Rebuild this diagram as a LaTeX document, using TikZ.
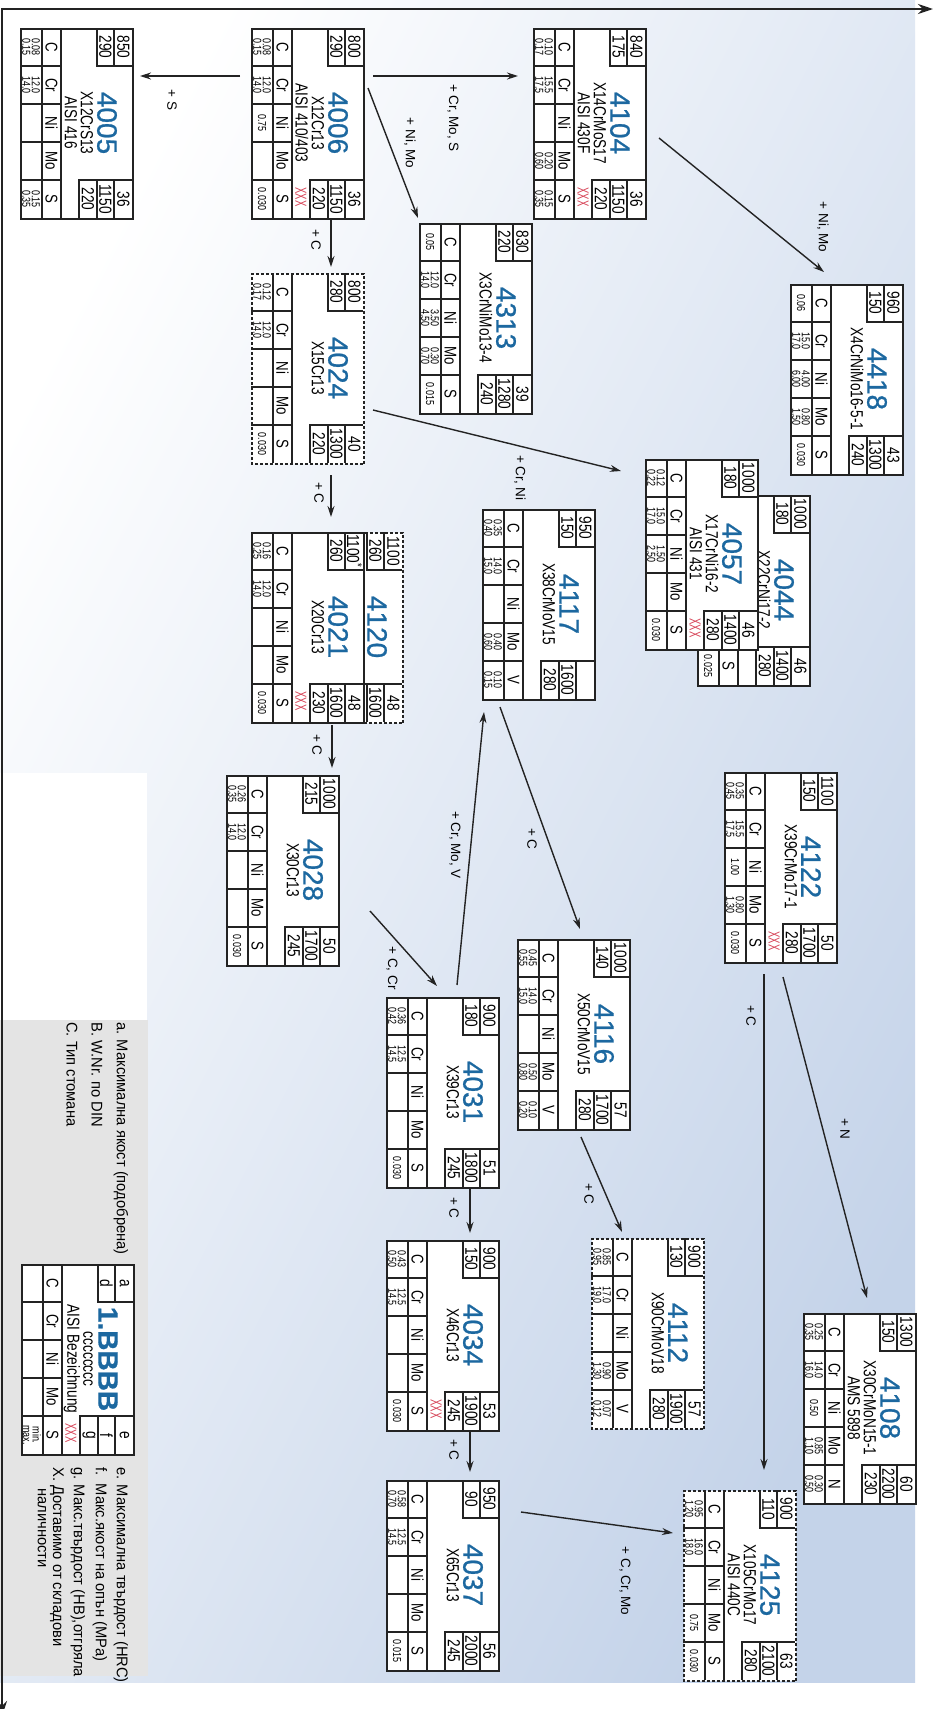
\documentclass[tikz,border=0pt]{standalone}
\usepackage{fontspec}
\setmainfont{Liberation Sans}
\newfontfamily\vnd[FakeStretch=0.78]{Liberation Sans}
\newfontfamily\xnd[FakeStretch=0.6]{Liberation Sans}
\newfontfamily\lgd[FakeStretch=0.95]{Liberation Sans}
\newfontfamily\numf[FakeBold=0.8]{Liberation Sans}
\usetikzlibrary{arrows.meta,calc}

\definecolor{numblue}{RGB}{28,104,160}
\definecolor{xred}{RGB}{214,64,84}
\definecolor{linec}{RGB}{35,35,35}
\definecolor{bgblue}{RGB}{196,211,233}
\definecolor{bgmid}{RGB}{228,234,243}
\definecolor{leggrey}{RGB}{228,228,228}

\tikzset{
 boxfr/.style={rectangle, draw=linec, line width=1.5pt, fill=white, minimum width=190pt, minimum height=112pt, inner sep=0pt, anchor=south west},
 sbframe/.style={solid},
 inl/.style={draw=linec, line width=1.1pt},
 dsh/.style={dash pattern=on 3pt off 2pt},
 cell/.style={font=\vnd\fontsize{17.5}{17.5}\selectfont, inner sep=0pt},
 numt/.style={font=\numf\fontsize{28}{28}\selectfont, inner sep=0pt, text=numblue},
 nmt/.style={font=\vnd\fontsize{17.5}{17.5}\selectfont, inner sep=0pt},
 elt/.style={font=\vnd\fontsize{17}{17}\selectfont, inner sep=0pt},
 valt/.style={font=\vnd\fontsize{11.5}{9.5}\selectfont, inner sep=0pt, align=center},
 xxt/.style={font=\xnd\fontsize{16}{16}\selectfont, inner sep=0pt, text=xred},
 arr/.style={draw=linec, line width=1.4pt, -{Stealth[length=11pt,width=7pt]}},
 axisln/.style={draw=linec, line width=2.5pt},
 lab/.style={font=\fontsize{13.5}{13.5}\selectfont, inner sep=0pt},
 lgt/.style={font=\lgd\fontsize{15.5}{15.5}\selectfont, inner sep=0pt, anchor=west},
}

\pgfkeys{/sb/.is family, /sb/.cd,
  a/.store in=\sbA, d/.store in=\sbD, e/.store in=\sbE, f/.store in=\sbF, g/.store in=\sbG,
  num/.store in=\sbNum, la/.store in=\sbLa, lb/.store in=\sbLb, x/.store in=\sbX,
  ea/.store in=\sbEa, eb/.store in=\sbEb, ec/.store in=\sbEc, ed/.store in=\sbEd, ee/.store in=\sbEe,
  va/.store in=\sbVa, vb/.store in=\sbVb, vc/.store in=\sbVc, vd/.store in=\sbVd, ve/.store in=\sbVe,
  frame/.code={\tikzset{sbframe/.style={#1}}},
  defaults/.style={a=,d=,e=,f=,g=,num=,la=,lb=,x=,ea=C,eb=Cr,ec=Ni,ed=Mo,ee=S,va=,vb=,vc=,vd=,ve=,frame=solid}}

\newcommand\vv[2]{#1\\#2}

\newcommand\stbox[4][]{%
 \pgfkeys{/sb/.cd,defaults,#1}%
 \node[boxfr,sbframe] (#2) at (#3,#4) {};
 \begin{scope}[shift={(#3,#4)}]
 \draw[inl] (0,22)--(190,22) (0,41)--(190,41)
  (38,0)--(38,41) (76,0)--(76,41) (114,0)--(114,41) (152,0)--(152,41)
  (0,77)--(38,77)--(38,112) (0,94)--(38,94)
  (190,59)--(152,59)--(152,112) (152,77)--(190,77) (152,94)--(190,94);
 \node[cell] (#2a) at (19,103.5) {\sbA};
 \node[cell] (#2d) at (19,85.5) {\sbD};
 \node[cell] (#2e) at (171,103.5) {\sbE};
 \node[cell] (#2f) at (171,85.5) {\sbF};
 \node[cell] (#2g) at (171,68) {\sbG};
 \node[numt] (#2n) at (95,87) {\sbNum};
 \node[nmt] (#2l) at (95,67) {\sbLa};
 \node[nmt] (#2m) at (95,51) {\sbLb};
 \node[xxt] (#2x) at (169,50) {\sbX};
 \node[elt] (#2c1) at (19,31.5) {\sbEa};
 \node[elt] (#2c2) at (57,31.5) {\sbEb};
 \node[elt] (#2c3) at (95,31.5) {\sbEc};
 \node[elt] (#2c4) at (133,31.5) {\sbEd};
 \node[elt] (#2c5) at (171,31.5) {\sbEe};
 \node[valt] (#2v1) at (19,11) {\sbVa};
 \node[valt] (#2v2) at (57,11) {\sbVb};
 \node[valt] (#2v3) at (95,11) {\sbVc};
 \node[valt] (#2v4) at (133,11) {\sbVd};
 \node[valt] (#2v5) at (171,11) {\sbVe};
 \end{scope}}

\begin{document}
\begin{tikzpicture}[x=1pt,y=1pt]
\useasboundingbox (0,0) rectangle (935,-1709);
\fill[white] (0,0) rectangle (935,-1709);
\shade[top color=white, middle color=bgmid, bottom color=bgblue, shading angle=63] (0,0) rectangle (915,-1682);
\fill[white] (0,-773) rectangle (147,-1020);
\fill[leggrey] (0,-1020) rectangle (148,-1676);

\begin{scope}[rotate=-90, transform shape]
% axes
\draw[axisln, {Stealth[length=15pt,width=10pt]}-{Stealth[length=15pt,width=10pt]}] (9,933) -- (9,2) -- (1716,2);

% boxes
\stbox[a=850,d=290,e=36,f=1150,g=220,num=4005,la=X12CrS13,lb=AISI 416,va=\vv{0.08}{0.15},vb=\vv{12.0}{14.0},ve=\vv{0.15}{0.35}]{b4005}{28}{20}
\stbox[a=800,d=290,e=36,f=1150,g=220,num=4006,la=X12Cr13,lb=AISI 410/403,x=XXX,va=\vv{0.08}{0.15},vb=\vv{12.0}{14.0},vc=0.75,ve=0.030]{b4006}{28}{251}
\stbox[a=840,d=175,e=36,f=1150,g=220,num=4104,la=X14CrMoS17,lb=AISI 430F,x=XXX,va=\vv{0.10}{0.17},vb=\vv{15.5}{17.5},vd=\vv{0.20}{0.60},ve=\vv{0.15}{0.35}]{b4104}{28}{533}
\stbox[a=830,d=220,e=39,f=1280,g=240,num=4313,la=X3CrNiMo13-4,va=0.05,vb=\vv{12.0}{14.0},vc=\vv{3.50}{4.50},vd=\vv{0.30}{0.70},ve=0.015]{b4313}{223}{419}
\stbox[a=960,d=150,e=43,f=1300,g=240,num=4418,la=X4CrNiMo16-5-1,va=0.06,vb=\vv{15.0}{17.0},vc=\vv{4.00}{6.00},vd=\vv{0.80}{1.50},ve=0.030]{b4418}{284}{790}
\stbox[frame=dsh,a=800,d=280,e=40,f=1300,g=220,num=4024,la=X15Cr13,va=\vv{0.12}{0.17},vb=\vv{12.0}{14.0},ve=0.030]{b4024}{273}{251}
\stbox[frame=dsh,a=1100,d=260,e=48,f=1600,num=4120,ea=,eb=,ec=,ed=,ee=]{b4120}{532}{290}
\stbox[a=1100\textsuperscript{*},d=260,e=48,f=1600,g=230,num=4021,la=X20Cr13,x=XXX,va=\vv{0.16}{0.25},vb=\vv{12.0}{14.0},ve=0.030]{b4021}{532}{251}
\stbox[a=1000,d=215,e=50,f=1700,g=245,num=4028,la=X30Cr13,va=\vv{0.26}{0.35},vb=\vv{12.0}{14.0},ve=0.030]{b4028}{775}{226}
\stbox[a=950,d=150,f=1600,g=280,num=4117,la=X38CrMoV15,ee=V,va=\vv{0.35}{0.40},vb=\vv{14.0}{15.0},vd=\vv{0.40}{0.60},ve=\vv{0.10}{0.15}]{b4117}{509}{482}
\stbox[a=1000,d=180,e=46,f=1400,g=280,num=4044,la=X22CrNi17-2,ea=,eb=,ec=,ed=,ve=0.025]{b4044}{495}{697}
\stbox[a=1000,d=180,e=46,f=1400,g=280,num=4057,la=X17CrNi16-2,lb=AISI 431,x=XXX,va=\vv{0.12}{0.22},vb=\vv{15.0}{17.0},vc=\vv{1.50}{2.50},ve=0.030]{b4057}{459}{645}
\stbox[a=1100,d=150,e=50,f=1700,g=280,num=4122,la=X39CrMo17-1,x=XXX,va=\vv{0.35}{0.45},vb=\vv{15.5}{17.5},vc=1.00,vd=\vv{0.80}{1.30},ve=0.030]{b4122}{772}{724}
\stbox[a=1000,d=140,e=57,f=1700,g=280,num=4116,la=X50CrMoV15,ee=V,va=\vv{0.45}{0.55},vb=\vv{14.0}{15.0},vd=\vv{0.50}{0.80},ve=\vv{0.10}{0.20}]{b4116}{939}{517}
\stbox[a=900,d=180,e=51,f=1800,g=245,num=4031,la=X39Cr13,va=\vv{0.36}{0.42},vb=\vv{12.5}{14.5},ve=0.030]{b4031}{997}{386}
\stbox[a=900,d=150,e=53,f=1900,g=245,num=4034,la=X46Cr13,x=XXX,va=\vv{0.43}{0.50},vb=\vv{12.5}{14.5},ve=0.030]{b4034}{1240}{386}
\stbox[frame=dsh,a=900,d=130,e=57,f=1900,g=280,num=4112,la=X90CrMoV18,ee=V,va=\vv{0.85}{0.95},vb=\vv{17.0}{19.0},vd=\vv{0.90}{1.30},ve=\vv{0.07}{0.12}]{b4112}{1238}{591}
\stbox[a=950,d=90,e=56,f=2000,g=245,num=4037,la=X65Cr13,va=\vv{0.58}{0.70},vb=\vv{12.5}{14.5},ve=0.015]{b4037}{1480}{386}
\stbox[a=1300,d=150,e=60,f=2200,g=230,num=4108,la=X30CrMoN15-1,lb=AMS 5898,ee=N,va=\vv{0.25}{0.35},vb=\vv{14.0}{16.0},vc=0.50,vd=\vv{0.85}{1.10},ve=\vv{0.30}{0.50}]{b4108}{1313}{803}
\stbox[frame=dsh,a=900,d=110,e=63,f=2100,g=280,num=4125,la=X105CrMo17,lb=AISI 440C,va=\vv{0.95}{1.20},vb=\vv{16.0}{18.0},vd=0.75,ve=0.030]{b4125}{1490}{683}
\stbox[a=a,d=d,e=e,f=f,g=g,num={\bfseries 1.BBBB},la=cccccccc,lb=AISI Bezeichnung,x=XXX,ve=\vv{min.}{max.}]{bleg}{1264}{21}

% connectors
\draw[arr] ($(b4006.south west)+(48,-11)$) -- ($(b4005.south west)+(48,120)$);
\draw[arr] ($(b4006.south west)+(48,122)$) -- ($(b4104.south west)+(48,-15)$);
\draw[arr] ($(b4006.south west)+(60,117)$) -- ($(b4313.south west)+(-5,-1)$);
\draw[arr] ($(b4006.south west)+(192,80)$) -- ($(b4024.south west)+(-6,80)$);
\draw[arr] ($(b4104.south west)+(110,126)$) -- ($(b4418.south west)+(-12,34)$);
\draw[arr] ($(b4024.south west)+(137,122)$) -- ($(b4057.south west)+(12,-24)$);
\draw[arr] ($(b4024.south west)+(202,80)$) -- ($(b4021.south west)+(-15,80)$);
\draw[arr] ($(b4021.south west)+(193,81)$) -- ($(b4028.south west)+(-7,106)$);
\draw[arr] ($(b4028.south west)+(136,144)$) -- ($(b4031.south west)+(-11,51)$);
\draw[arr] ($(b4031.south west)+(-12,71)$) -- ($(b4117.south west)+(203,2)$);
\draw[arr] ($(b4117.south west)+(198,18)$) -- ($(b4116.south west)+(-10,63)$);
\draw[arr] ($(b4122.south west)+(202,40)$) -- ($(b4125.south west)+(-20,81)$);
\draw[arr] ($(b4122.south west)+(205,59)$) -- ($(b4108.south west)+(-15,64)$);
\draw[arr] ($(b4116.south west)+(198,64)$) -- ($(b4112.south west)+(-6,31)$);
\draw[arr] ($(b4031.south west)+(191,84)$) -- ($(b4034.south west)+(-7,84)$);
\draw[arr] ($(b4034.south west)+(192,84)$) -- ($(b4037.south west)+(-8,84)$);
\draw[arr] ($(b4037.south west)+(32,135)$) -- ($(b4125.south west)+(43,-10)$);

% connector labels
\node[lab] (l1) at (100,172) {+ S};
\node[lab] (l2) at (118,453) {+ Cr, Mo, S};
\node[lab] (l3) at (143,410) {+ Ni, Mo};
\node[lab] (l4) at (240,316) {+ C};
\node[lab] (l5) at (227,823) {+ Ni, Mo};
\node[lab] (l6) at (478,520) {+ Cr, Ni};
\node[lab] (l7) at (493,319) {+ C};
\node[lab] (l8) at (745,317) {+ C};
\node[lab] (l9) at (968,392) {+ C, Cr};
\node[lab] (l10) at (845,455) {+ Cr, Mo, V};
\node[lab] (l11) at (839,532) {+ C};
\node[lab] (l12) at (1016,751) {+ C};
\node[lab] (l13) at (1129,845) {+ N};
\node[lab] (l14) at (1194,589) {+ C};
\node[lab] (l15) at (1208,454) {+ C};
\node[lab] (l16) at (1450,454) {+ C};
\node[lab] (l17) at (1581,625) {+ C, Cr, Mo};

% legend texts
\node[lgt] (ta) at (1022,121) {a. Максимална якост (подобрена)};
\node[lgt] (tb) at (1022,97) {B. W.Nr. по DIN};
\node[lgt] (tc) at (1022,72) {C. Тип стомана};
\node[lgt] (te) at (1467,121) {e. Максимална твърдост (HRC)};
\node[lgt] (tf) at (1467,100) {f.\ \ Макс.якост на опън (MPa)};
\node[lgt] (tg) at (1467,78) {g. Макс.твърдост (HB),отгряла};
\node[lgt] (tx) at (1467,57) {X. Доставимо от складови};
\node[lgt] (tx2) at (1488,42) {наличности};
\end{scope}
\end{tikzpicture}
\end{document}
